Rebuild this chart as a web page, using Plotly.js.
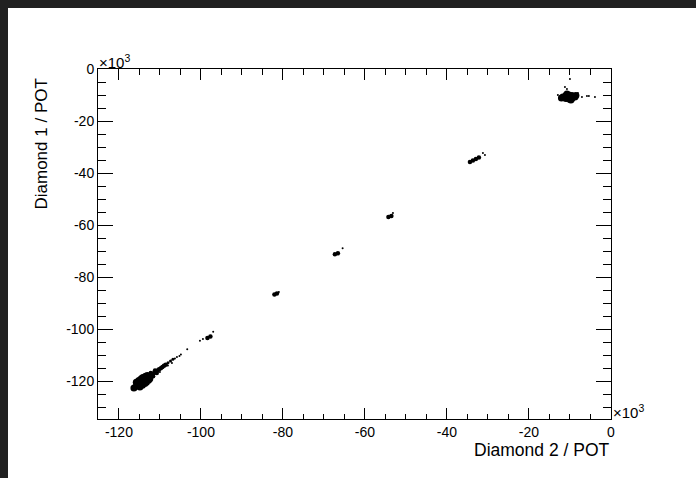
<!DOCTYPE html>
<html>
<head>
<meta charset="utf-8">
<script src="https://cdn.plot.ly/plotly-3.0.1.min.js"></script>
<style>
  html, body { margin: 0; padding: 0; background: #212121; width: 696px; height: 478px; overflow: hidden; }
  #chart { position: absolute; left: 8px; top: 8px; width: 688px; height: 470px; background: #ffffff; }
</style>
</head>
<body>
<div id="chart"></div>
<script>
// Dense cores (Diamond 2 / POT, Diamond 1 / POT), values in units of 10^3
const bigX = [-11.71, -10.98, -10.98, -10.24, -10.24, -10.24, -9.51, -9.51, -8.78, -12.07, -8.54, -10.73, -9.76,
              -115.71, -114.71, -113.73, -112.76, -114.88, -115.76, -113.68, -114.56, -112.78, -113.51, -116.34,
              -115.22, -114.22, -113.24, -114.27, -115.15, -113.29, -114.17, -112.46, -113.05];
const bigY = [-10.77, -10.19, -11.35, -10.00, -10.77, -11.54, -10.19, -11.35, -10.77, -11.15, -10.19, -9.62, -11.92,
              -121.85, -120.73, -119.58, -118.46, -122.31, -120.46, -120.96, -119.12, -119.65, -118.12, -122.69,
              -121.27, -120.15, -119.00, -121.65, -119.81, -120.50, -118.65, -119.08, -117.85];

// Medium-density points
const midX = [-111.76, -110.98, -110.20, -111.66, -112.24, -109.39, -108.61, -112.24, -111.37, -110.59, -109.78, -109.00, -110.76, -111.20,
              -98.41, -97.68, -82.07, -81.46, -67.32, -66.59, -54.27, -53.54,
              -34.39, -33.66, -32.93, -32.20];
const midY = [-117.31, -116.42, -115.50, -118.15, -116.92, -114.58, -113.69, -117.88, -116.85, -115.96, -115.04, -114.15, -116.88, -115.96,
              -103.46, -102.88, -86.73, -86.35, -71.27, -70.88, -56.92, -56.54,
              -35.77, -35.19, -34.62, -34.04];

// Sparse points
const smallX = [-108.02, -107.41, -106.83];
const smallY = [-113.00, -112.31, -111.65];

// Isolated strays
const strayX = [-106.34, -105.85, -105.24, -104.88, -108.05, -110.00, -107.07,
                -97.00, -100.24, -103.34, -99.51, -80.98, -65.44, -53.17,
                -31.22, -30.73, -11.22, -10.73, -12.93, -8.05, -5.85, -5.37, -3.90, -10.00, -7.07];
const strayY = [-111.35, -110.77, -110.38, -109.81, -114.04, -116.54, -113.08,
                -101.04, -104.50, -107.81, -103.85, -85.77, -68.96, -55.38,
                -32.31, -33.08, -6.92, -7.69, -10.00, -9.23, -10.38, -10.38, -10.77, -3.85, -10.77];

// Tick labels
const xTickVals = [-120, -100, -80, -60, -40, -20, 0];
const xTickText = ['-120', '-100', '-80', '-60', '-40', '-20', '0'];
const yTickVals = [-120, -100, -80, -60, -40, -20, 0];
const yTickText = ['-120', '-100', '-80', '-60', '-40', '-20', '0'];

const xRange = [-125.1, 0.02];
const yRange = [-134.6, 0.02];

const FONT = 'Liberation Sans, Arial, Helvetica, sans-serif';

function pts(x, y, size) {
  return { x: x, y: y, type: 'scatter', mode: 'markers', hoverinfo: 'skip',
           marker: { color: '#000000', size: size, symbol: 'circle', line: { width: 0 } } };
}

const data = [pts(bigX, bigY, 7), pts(midX, midY, 4.5), pts(smallX, smallY, 3), pts(strayX, strayY, 2)];

const axisCommon = {
  showgrid: false, zeroline: false, showline: true, linecolor: '#000000', linewidth: 1,
  mirror: 'allticks', ticks: 'inside', tickcolor: '#000000', tickwidth: 1,
  tickmode: 'array', tickfont: { family: FONT, size: 14, color: '#000000' },
  fixedrange: true
};

const layout = {
  width: 688, height: 470,
  margin: { l: 90, r: 85, t: 61, b: 59 },
  paper_bgcolor: '#ffffff', plot_bgcolor: '#ffffff',
  showlegend: false,
  xaxis: Object.assign({}, axisCommon, {
    range: xRange, ticklen: 11, tickvals: xTickVals, ticktext: xTickText,
    minor: { tickmode: 'linear', dtick: 5, tick0: 0, ticks: 'inside', ticklen: 5.5, tickcolor: '#000000', tickwidth: 1, showgrid: false }
  }),
  yaxis: Object.assign({}, axisCommon, {
    range: yRange, ticklen: 15, tickvals: yTickVals, ticktext: yTickText,
    minor: { tickmode: 'linear', dtick: 5, tick0: 0, ticks: 'inside', ticklen: 8, tickcolor: '#000000', tickwidth: 1, showgrid: false }
  }),
  annotations: [
    { xref: 'paper', yref: 'paper', x: 0, y: 1, xanchor: 'left', yanchor: 'bottom', showarrow: false,
      text: '×10<sup>3</sup>', font: { family: FONT, size: 15, color: '#000000' }, borderpad: 0, yshift: -3 },
    { xref: 'paper', yref: 'paper', x: 1, y: 0, xanchor: 'left', yanchor: 'bottom', showarrow: false,
      text: '×10<sup>3</sup>', font: { family: FONT, size: 15, color: '#000000' }, borderpad: 0, xshift: 1, yshift: -3 },
    { xref: 'paper', yref: 'paper', x: 1, y: 0, xanchor: 'right', yanchor: 'middle', showarrow: false,
      text: 'Diamond 2 / POT', font: { family: FONT, size: 17.5, color: '#000000' }, yshift: -30.5, xshift: 1 },
    { xref: 'paper', yref: 'paper', x: 0, y: 1, xanchor: 'center', yanchor: 'top', showarrow: false,
      text: 'Diamond 1 / POT', textangle: -90, font: { family: FONT, size: 17, color: '#000000' }, xshift: -57, yshift: -8 }
  ]
};

Plotly.newPlot('chart', data, layout, { displayModeBar: false, staticPlot: true });
</script>
</body>
</html>
